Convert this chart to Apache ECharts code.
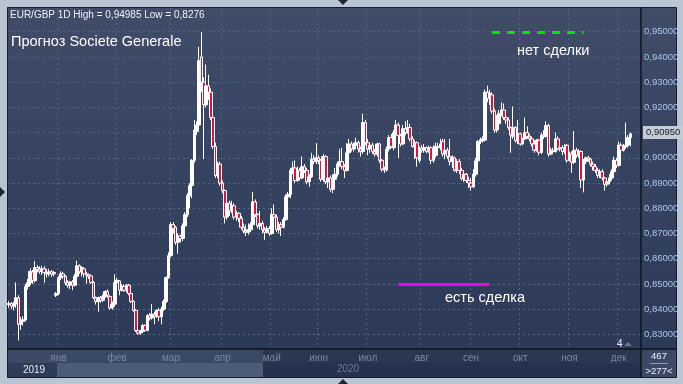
<!DOCTYPE html>
<html><head><meta charset="utf-8">
<script src="https://cdn.jsdelivr.net/npm/echarts@6/dist/echarts.min.js"></script>
<style>html,body{margin:0;padding:0;background:#bac5d4}#c{width:683px;height:384px}</style>
</head><body><div id="c"></div>
<script>
// OHLC rows: [open, close, low, high] in pips (price * 10000)
const dec19 = [[8418,8422,8405,8432],[8422,8412,8400,8428],[8412,8420,8395,8430],[8420,8445,8405,8506],[8445,8340,8276,8455],[8340,8352,8318,8368],[8352,8358,8335,8372],[8358,8490,8350,8500],[8490,8505,8478,8520],[8505,8550,8495,8562],[8548,8513,8500,8555],[8513,8565,8505,8590],[8565,8558,8545,8575],[8558,8550,8540,8570],[8550,8560,8535,8572],[8560,8545,8505,8570],[8545,8540,8525,8560],[8540,8548,8530,8560],[8548,8538,8528,8555],[8540,8545,8530,8552],[8455,8462,8448,8468]];
const jan20 = [[8462,8525,8455,8532],[8525,8540,8515,8550],[8540,8530,8520,8548],[8530,8505,8495,8535],[8505,8495,8485,8515],[8495,8508,8480,8512],[8508,8495,8475,8515],[8495,8530,8490,8540],[8530,8572,8525,8592],[8572,8548,8540,8578],[8548,8565,8530,8570],[8560,8540,8525,8565],[8540,8535,8500,8548],[8535,8530,8520,8542],[8532,8506,8500,8538],[8506,8445,8440,8512],[8445,8430,8418,8450],[8430,8445,8390,8450],[8445,8435,8425,8452],[8435,8450,8428,8458],[8450,8470,8445,8475],[8470,8455,8445,8478],[8450,8405,8398,8455],[8405,8420,8398,8430],[8420,8505,8410,8538]];
const feb20 = [[8505,8515,8495,8525],[8512,8475,8455,8515],[8475,8490,8470,8500],[8490,8475,8468,8498],[8475,8495,8465,8500],[8495,8462,8455,8500],[8462,8430,8425,8470],[8430,8395,8390,8435],[8395,8315,8310,8400],[8315,8305,8298,8325],[8305,8312,8298,8318],[8312,8335,8305,8342],[8335,8316,8310,8340],[8316,8375,8312,8380],[8375,8365,8355,8385],[8365,8380,8358,8420],[8380,8372,8340,8390],[8372,8395,8365,8400],[8395,8370,8352,8405],[8370,8400,8340,8410],[8400,8430,8392,8438],[8430,8525,8425,8530],[8525,8612,8520,8625]];
const mar20 = [[8612,8735,8605,8745],[8735,8720,8700,8745],[8725,8665,8655,8730],[8665,8690,8620,8700],[8690,8680,8665,8695],[8680,8730,8670,8740],[8730,8775,8720,8785],[8775,8850,8765,8860],[8850,8890,8800,8900],[8890,8990,8840,8995],[8990,9110,8980,9150],[9105,9130,9090,9145],[9130,9385,9120,9440],[9400,9300,9260,9498.5],[9300,9210,8995,9320],[9210,9285,9200,9370],[9285,9260,9230,9330],[9260,9160,9150,9275],[9160,9045,9035,9170],[9045,8930,8920,9060],[8930,8975,8920,8985],[8975,8900,8890,8985]];
const apr20 = [[8900,8870,8860,8910],[8870,8765,8740,8875],[8765,8820,8755,8842],[8820,8790,8770,8830],[8790,8810,8780,8830],[8810,8765,8755,8820],[8765,8780,8750,8790],[8780,8760,8745,8785],[8760,8725,8715,8770],[8725,8710,8700,8740],[8710,8705,8690,8735],[8705,8715,8695,8740],[8715,8735,8705,8745],[8735,8825,8725,8865],[8825,8775,8765,8835],[8775,8730,8720,8780],[8730,8740,8715,8790],[8740,8715,8700,8750],[8715,8705,8675,8725],[8705,8720,8700,8730],[8720,8700,8690,8730]];
const may20 = [[8700,8775,8695,8800],[8775,8765,8740,8815],[8765,8715,8705,8775],[8715,8735,8700,8745],[8735,8725,8690,8745],[8725,8755,8720,8765],[8755,8845,8750,8855],[8845,8855,8835,8865],[8855,8950,8840,8960],[8950,8960,8935,8985],[8960,8910,8900,8990],[8910,8950,8905,8965],[8950,8920,8910,8960],[8920,8965,8915,9005],[8965,8950,8940,8975],[8950,8905,8895,8960],[8905,8925,8885,8935],[8925,8995,8920,9020],[8995,8985,8975,9010],[8985,9000,8975,9058]];
const jun20 = [[9000,8990,8975,9010],[8990,8915,8905,8995],[8915,9005,8905,9015],[9005,8905,8895,9010],[8905,8920,8880,8935],[8920,8875,8865,8930],[8875,8915,8860,8935],[8915,8935,8895,8960],[8935,8975,8925,8985],[8975,8985,8965,9035],[8985,8965,8955,9040],[8965,8950,8920,8975],[8950,9020,8945,9058],[9020,9055,9010,9075],[9055,9035,9025,9065],[9035,9050,9025,9060],[9050,9060,9040,9080],[9060,9035,9020,9068],[9035,9025,9005,9045],[9025,9140,9015,9175],[9140,9060,9050,9150]];
const jul20 = [[9060,9035,9010,9075],[9035,9050,9020,9060],[9050,9025,9015,9060],[9025,9015,9005,9035],[9015,9055,9005,9060],[9055,8990,8980,9060],[8990,8955,8945,8995],[8955,8952,8940,8965],[8952,9035,8945,9045],[9035,9080,9025,9090],[9080,9045,9040,9095],[9040,9100,9030,9110],[9100,9130,9090,9150],[9130,9088,9000,9140],[9088,9055,9045,9095],[9055,9115,9050,9130],[9115,9100,9090,9145],[9100,9120,9095,9150],[9120,9075,9065,9135],[9075,9045,9040,9085],[9045,9060,8995,9070],[9060,9000,8965,9065],[8990,9038,8980,9045]];
const aug20 = [[9038,9030,9020,9050],[9030,9040,9020,9055],[9040,9025,9018,9045],[9025,9040,9020,9048],[9040,8990,8975,9045],[8990,9010,8980,9050],[9010,9045,9000,9060],[9045,9040,9030,9060],[9040,9055,9030,9075],[9065,9015,9005,9075],[9015,9030,8995,9075],[9030,9005,8995,9040],[9005,8985,8970,9075],[8985,9000,8960,9010],[9000,8950,8945,9005],[8950,8985,8940,8995],[8985,8950,8935,8995],[8950,8918,8910,8960],[8918,8935,8905,8945],[8935,8910,8900,8940],[8910,8900,8880,8925]];
const sep20 = [[8900,8885,8870,8920],[8885,8935,8880,8955],[8935,8988,8925,9000],[8988,9065,8960,9070],[9065,9072,9055,9080],[9068,9075,9060,9085],[9070,9260,9065,9270],[9260,9235,9220,9286],[9235,9255,9210,9270],[9250,9185,9175,9260],[9185,9110,9100,9195],[9110,9135,9100,9170],[9135,9175,9130,9190],[9175,9190,9165,9220],[9190,9160,9150,9215],[9160,9150,9135,9175],[9150,9120,9110,9160],[9120,9090,9020,9125],[9085,9120,9075,9204],[9120,9068,9060,9125],[9068,9095,9055,9150]];
const oct20 = [[9095,9055,9048,9100],[9055,9075,9050,9080],[9075,9100,9070,9160],[9100,9085,9075,9125],[9085,9075,9065,9095],[9075,9055,9045,9085],[9055,9030,9020,9070],[9030,9070,9025,9075],[9070,9022,9010,9075],[9022,9090,9015,9100],[9090,9085,9075,9110],[9085,9128,9080,9145],[9128,9015,9005,9135],[9015,9030,9010,9040],[9030,9025,9015,9040],[9025,9075,9020,9100],[9075,9035,9030,9085],[9035,9040,9025,9060],[9040,9025,9010,9050],[9025,9040,9015,9055],[9050,8990,8980,9055]];
const nov20 = [[8990,9015,8985,9025],[9015,8982,8940,9025],[8982,9030,8975,9106],[9030,9010,9000,9040],[9010,9025,9000,9035],[9025,8912,8880,9030],[8912,8985,8863,8995],[8985,9000,8975,9005],[9000,8995,8985,9008],[8995,8975,8965,9000],[8975,8965,8950,8985],[8965,8950,8940,8975],[8950,8930,8920,8960],[8930,8945,8920,8955],[8945,8920,8910,8955],[8920,8895,8870,8925],[8895,8905,8885,8915],[8905,8920,8895,8935],[8920,8945,8910,8955],[8945,8990,8940,9005],[8990,8970,8960,9000]];
const dec20 = [[8970,9050,8965,9065],[9050,9030,9020,9060],[9030,9045,9025,9055],[9045,9050,9035,9140],[9050,9080,9040,9090],[9080,9095,9045,9100]];

const monthLabels = ['', 'янв','фев','мар','апр','май','июн','июл','авг','сен','окт','ноя','дек'];
const monthRows = [dec19, jan20, feb20, mar20, apr20, may20, jun20, jul20, aug20, sep20, oct20, nov20, dec20];
const yearLabels = ['2019', '2020'];
const yTicks = [0.83,0.84,0.85,0.86,0.87,0.88,0.89,0.90,0.91,0.92,0.93,0.94,0.95];
const headerText = 'EUR/GBP 1D High = 0,94985 Low = 0,8276';
const titleText = 'Прогноз Societe Generale';
const noDealText = 'нет сделки';
const dealText = 'есть сделка';
// annotation segments: [fromCandle, toCandle, price]
const noDealLine = [206, 245, 0.9499];
const dealLine = [166, 205, 0.85];
const emptySlots = 4;

const cats = [], ohlc = [], monthStart = {};
monthRows.forEach((rows, mi) => {
  rows.forEach((r, k) => {
    const idx = cats.length;
    cats.push(mi + '-' + k);
    if (k === 0 && monthLabels[mi]) monthStart[idx] = mi;
    ohlc.push(r.map(v => v / 10000));
  });
});
for (let p = 0; p < emptySlots; p++) { cats.push('x' + p); ohlc.push('-'); }
const lastClose = monthRows[monthRows.length - 1].slice(-1)[0][1] / 10000;
const fmt = v => v.toFixed(5).replace('.', ',');

const chart = echarts.init(document.getElementById('c'), null, {renderer: 'canvas'});
const FONT = 'Liberation Sans';
const grad = new echarts.graphic.LinearGradient(0, 0, 0, 1, [{offset: 0, color: '#404c68'}, {offset: 1, color: '#2c3a58'}]);
const grad2 = new echarts.graphic.LinearGradient(0, 0, 0, 1, [{offset: 0, color: '#404c68'}, {offset: 1, color: '#2c3a58'}]);

chart.setOption({
  animation: false,
  grid: {left: 8, right: 42, top: 8, bottom: 35},
  xAxis: {
    type: 'category', data: cats, boundaryGap: true,
    axisLine: {show: true, lineStyle: {color: '#0e131d', width: 1.5}},
    axisTick: {show: false},
    axisLabel: {
      interval: i => monthStart[i] !== undefined,
      formatter: (v, i) => monthStart[i] !== undefined ? monthLabels[monthStart[i]] : '',
      color: (v, i) => (monthStart[i] !== undefined && monthStart[i] <= 4) ? '#d3def0' : '#7b88a0',
      fontSize: 10, fontFamily: FONT, margin: 4
    },
    splitLine: {show: true, interval: i => monthStart[i] !== undefined, lineStyle: {color: '#56637f', type: [2, 3], width: 1}}
  },
  yAxis: {
    type: 'value', position: 'right', min: 0.8242, max: 0.9594, scale: true,
    axisLine: {show: true, lineStyle: {color: '#0e131d', width: 1.5}},
    axisTick: {show: false, customValues: yTicks},
    axisLabel: {customValues: yTicks, formatter: fmt, color: '#a8c5ec', fontSize: 9.5, fontFamily: FONT, margin: 3},
    splitLine: {show: true, lineStyle: {color: '#56637f', type: [2, 3], width: 1}}
  },
  series: [{
    type: 'candlestick', data: ohlc, barWidth: 3.2, clip: false,
    itemStyle: {color: '#ffffff', color0: '#e3103a', borderColor: '#ffffff', borderColor0: '#ffffff', borderWidth: 1},
    markLine: {
      silent: true, symbol: ['none', 'none'], animation: false,
      data: [
        [{coord: [cats[noDealLine[0]], noDealLine[2]], lineStyle: {color: '#00e600', width: 3, type: [8, 7]}, label: {show: false}},
         {coord: [cats[noDealLine[1]], noDealLine[2]]}],
        [{coord: [cats[dealLine[0]], dealLine[2]], lineStyle: {color: '#f000e8', width: 3, type: 'solid'}, label: {show: false}},
         {coord: [cats[dealLine[1]], dealLine[2]]}],
        {yAxis: lastClose, lineStyle: {color: 'rgba(0,0,0,0)', width: 0.1},
         label: {show: true, position: 'end', distance: 2, formatter: () => fmt(lastClose), backgroundColor: '#c5cbd4', color: '#121a28', padding: [2, 3, 1, 3], fontSize: 9.5, fontFamily: FONT}}
      ]
    }
  }],
  graphic: [
    {type: 'rect', z: -20, shape: {x: 0, y: 0, width: 683, height: 384}, style: {fill: '#bac5d4'}},
    {type: 'rect', z: -19, shape: {x: 7, y: 7, width: 634, height: 342}, style: {fill: grad}},
    {type: 'rect', z: -19, shape: {x: 641, y: 7, width: 35, height: 342}, style: {fill: grad2}},
    {type: 'rect', z: -19, shape: {x: 7, y: 349, width: 256, height: 14}, style: {fill: '#3b4866'}},
    {type: 'rect', z: -19, shape: {x: 263, y: 349, width: 378, height: 14}, style: {fill: '#2a3652'}},
    {type: 'rect', z: -19, shape: {x: 7, y: 363, width: 50, height: 14}, style: {fill: '#2f3c58'}},
    {type: 'rect', z: -19, shape: {x: 57, y: 363, width: 206, height: 14}, style: {fill: '#4c5b78'}},
    {type: 'rect', z: -19, shape: {x: 263, y: 363, width: 378, height: 14}, style: {fill: '#26324d'}},
    {type: 'rect', z: -19, shape: {x: 641, y: 349, width: 35, height: 28}, style: {fill: '#3c4966'}},
    {type: 'rect', z: -18, shape: {x: 7.5, y: 7.5, width: 669, height: 370}, style: {fill: 'none', stroke: '#161d2b', lineWidth: 1}},
    {type: 'line', z: 5, shape: {x1: 641, y1: 349, x2: 641, y2: 377}, style: {stroke: '#0e131d', lineWidth: 1.5}},
    {type: 'line', z: 5, shape: {x1: 641, y1: 349, x2: 676, y2: 349}, style: {stroke: '#0e131d', lineWidth: 1.5}},
    {type: 'line', z: 5, shape: {x1: 650, y1: 363.5, x2: 668, y2: 363.5}, style: {stroke: '#8d99ae', lineWidth: 1}},
    {type: 'polygon', z: 5, shape: {points: [[338, 0], [348, 0], [343, 5]]}, style: {fill: '#1e2636'}},
    {type: 'polygon', z: 5, shape: {points: [[0, 187], [0, 197], [5, 192]]}, style: {fill: '#1e2636'}},
    {type: 'polygon', z: 5, shape: {points: [[338, 384], [348, 384], [343, 379]]}, style: {fill: '#1e2636'}},
    {type: 'polygon', z: 5, shape: {points: [[624, 346], [632, 346], [628, 342]]}, style: {fill: '#6b7791'}},
    {type: 'text', z: 10, x: 617, y: 344, style: {text: '4', fill: '#e8eef8', font: '10px ' + FONT, verticalAlign: 'middle'}},
    {type: 'text', z: 10, x: 659, y: 356, style: {text: '467', fill: '#e8eef8', font: '9.5px ' + FONT, align: 'center', verticalAlign: 'middle'}},
    {type: 'text', z: 10, x: 659, y: 371, style: {text: '>277<', fill: '#e8eef8', font: '9.5px ' + FONT, align: 'center', verticalAlign: 'middle'}},
    {type: 'text', z: 10, x: 34, y: 370, style: {text: yearLabels[0], fill: '#e3eaf5', font: '10px ' + FONT, align: 'center', verticalAlign: 'middle'}},
    {type: 'text', z: 10, x: 348, y: 369, style: {text: yearLabels[1], fill: '#6e7b94', font: '10px ' + FONT, align: 'center', verticalAlign: 'middle'}},
    {type: 'text', z: 10, x: 10, y: 15, style: {text: headerText, fill: '#eef2f8', font: '10px ' + FONT, verticalAlign: 'middle'}},
    {type: 'text', z: 10, x: 11, y: 42, style: {text: titleText, fill: '#ffffff', font: '14.5px ' + FONT, verticalAlign: 'middle'}},
    {type: 'text', z: 10, x: 517, y: 51, style: {text: noDealText, fill: '#ffffff', font: '14.5px ' + FONT, verticalAlign: 'middle'}},
    {type: 'text', z: 10, x: 445, y: 298, style: {text: dealText, fill: '#ffffff', font: '14.5px ' + FONT, verticalAlign: 'middle'}}
  ]
});
</script></body></html>
